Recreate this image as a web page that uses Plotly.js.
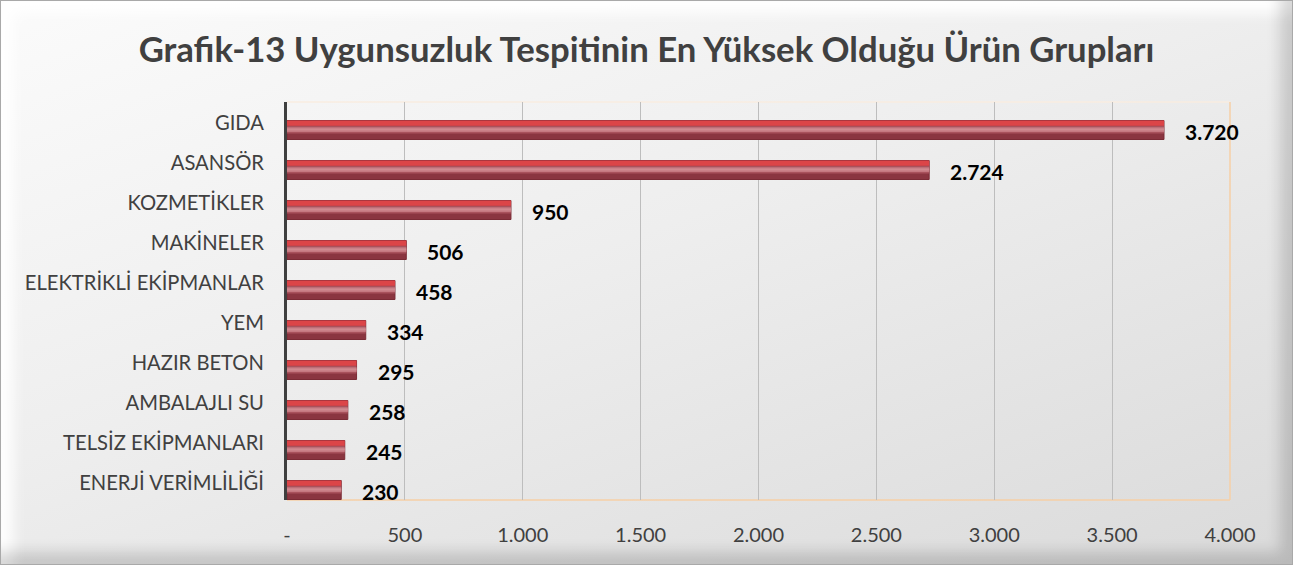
<!DOCTYPE html>
<html>
<head>
<meta charset="utf-8">
<script src="https://cdn.plot.ly/plotly-3.0.1.min.js"></script>
<style>
  html, body { margin:0; padding:0; width:1293px; height:565px; overflow:hidden; background:#fff; }
  #frame {
    position:absolute; left:0; top:0; width:1291px; height:563px;
    border:1px solid #a9a9a9;
    background: linear-gradient(160deg, #fbfbfb 0%, #eeeeee 45%, #dadada 100%);
    box-shadow: inset -12px -12px 14px rgba(0,0,0,0.15), inset 12px 12px 14px rgba(255,255,255,0.95);
  }
  #chart { position:absolute; left:0; top:0; width:1293px; height:565px; }
</style>
</head>
<body>
<div id="frame"></div>
<div id="chart"></div>
<script>
const categories = ["GIDA","ASANSÖR","KOZMETİKLER","MAKİNELER","ELEKTRİKLİ EKİPMANLAR","YEM","HAZIR BETON","AMBALAJLI SU","TELSİZ EKİPMANLARI","ENERJİ VERİMLİLİĞİ"];
const values = [3720, 2724, 950, 506, 458, 334, 295, 258, 245, 230];
const valueLabels = ["3.720","2.724","950","506","458","334","295","258","245","230"];
const tickValues = [0, 500, 1000, 1500, 2000, 2500, 3000, 3500, 4000];
const tickLabels = ["-","500","1.000","1.500","2.000","2.500","3.000","3.500","4.000"];

const FONT = "Lato, 'Open Sans', sans-serif";

function band(offset, width, color, line) {
  return {
    type:'bar', orientation:'h', x: values, y: categories,
    width: width, offset: offset,
    marker:{ color: color, line: line || {width:0} },
    hoverinfo:'skip', showlegend:false
  };
}
const traces = [
  band(-0.2375, 0.475, '#8a3540', {color:'#7a2b35', width:1}),
  band(-0.11, 0.20, '#a9525c'),
  band(-0.07, 0.12, '#c57880'),
  band(-0.035, 0.05, '#d08a90'),
  band(-0.2375, 0.13, '#dc4548')
];

const annotations = values.map((v, i) => ({
  x: v, y: categories[i], xref:'x', yref:'y',
  text: valueLabels[i], showarrow:false,
  xanchor:'left', yanchor:'middle', xshift: 19, yshift: -1,
  font:{ family: FONT, size: 21, color:'#000000', weight: 700 }
}));

const layout = {
  width:1293, height:565,
  paper_bgcolor:'rgba(0,0,0,0)', plot_bgcolor:'rgba(0,0,0,0)',
  margin:{ l:287, r:63, t:102, b:65, pad:0 },
  barmode:'overlay',
  title:{ text:'Grafik-13 Uygunsuzluk Tespitinin En Yüksek Olduğu Ürün Grupları',
          x:0.5, xanchor:'center', y:0.912, yanchor:'middle',
          font:{ family: FONT, size: 34.7, color:'#404040', weight: 700 } },
  xaxis:{
    range:[0, 4000], tickvals: tickValues, ticktext: tickLabels,
    showgrid:true, gridcolor:'#bdbdbd', gridwidth:1,
    zeroline:false, showline:false, ticks:'',
    tickfont:{ family: FONT, size: 20, color:'#404040' },
    ticklabelstandoff: 21
  },
  yaxis:{
    type:'category', range:[9.25, -0.7],
    showgrid:false, zeroline:false,
    showline:true, linecolor:'#3f3f3f', linewidth:3,
    ticks:'', ticklabelshift: 7, ticklabelstandoff: 16,
    tickfont:{ family: FONT, size: 20.2, color:'#404040' }
  },
  shapes:[
    { type:'line', xref:'paper', yref:'paper', x0:0, x1:1, y0:1, y1:1,
      line:{ color:'#f9ece0', width:1.3 }, layer:'below' },
    { type:'line', xref:'paper', yref:'paper', x0:1, x1:1, y0:0, y1:1,
      line:{ color:'#f6cfa6', width:1.5 }, layer:'below' },
    { type:'line', xref:'paper', yref:'paper', x0:0, x1:1, y0:0, y1:0,
      line:{ color:'#f6cfa6', width:1.5 }, layer:'below' }
  ],
  annotations: annotations
};

Plotly.newPlot('chart', traces, layout, {displayModeBar:false, staticPlot:true});
</script>
</body>
</html>
